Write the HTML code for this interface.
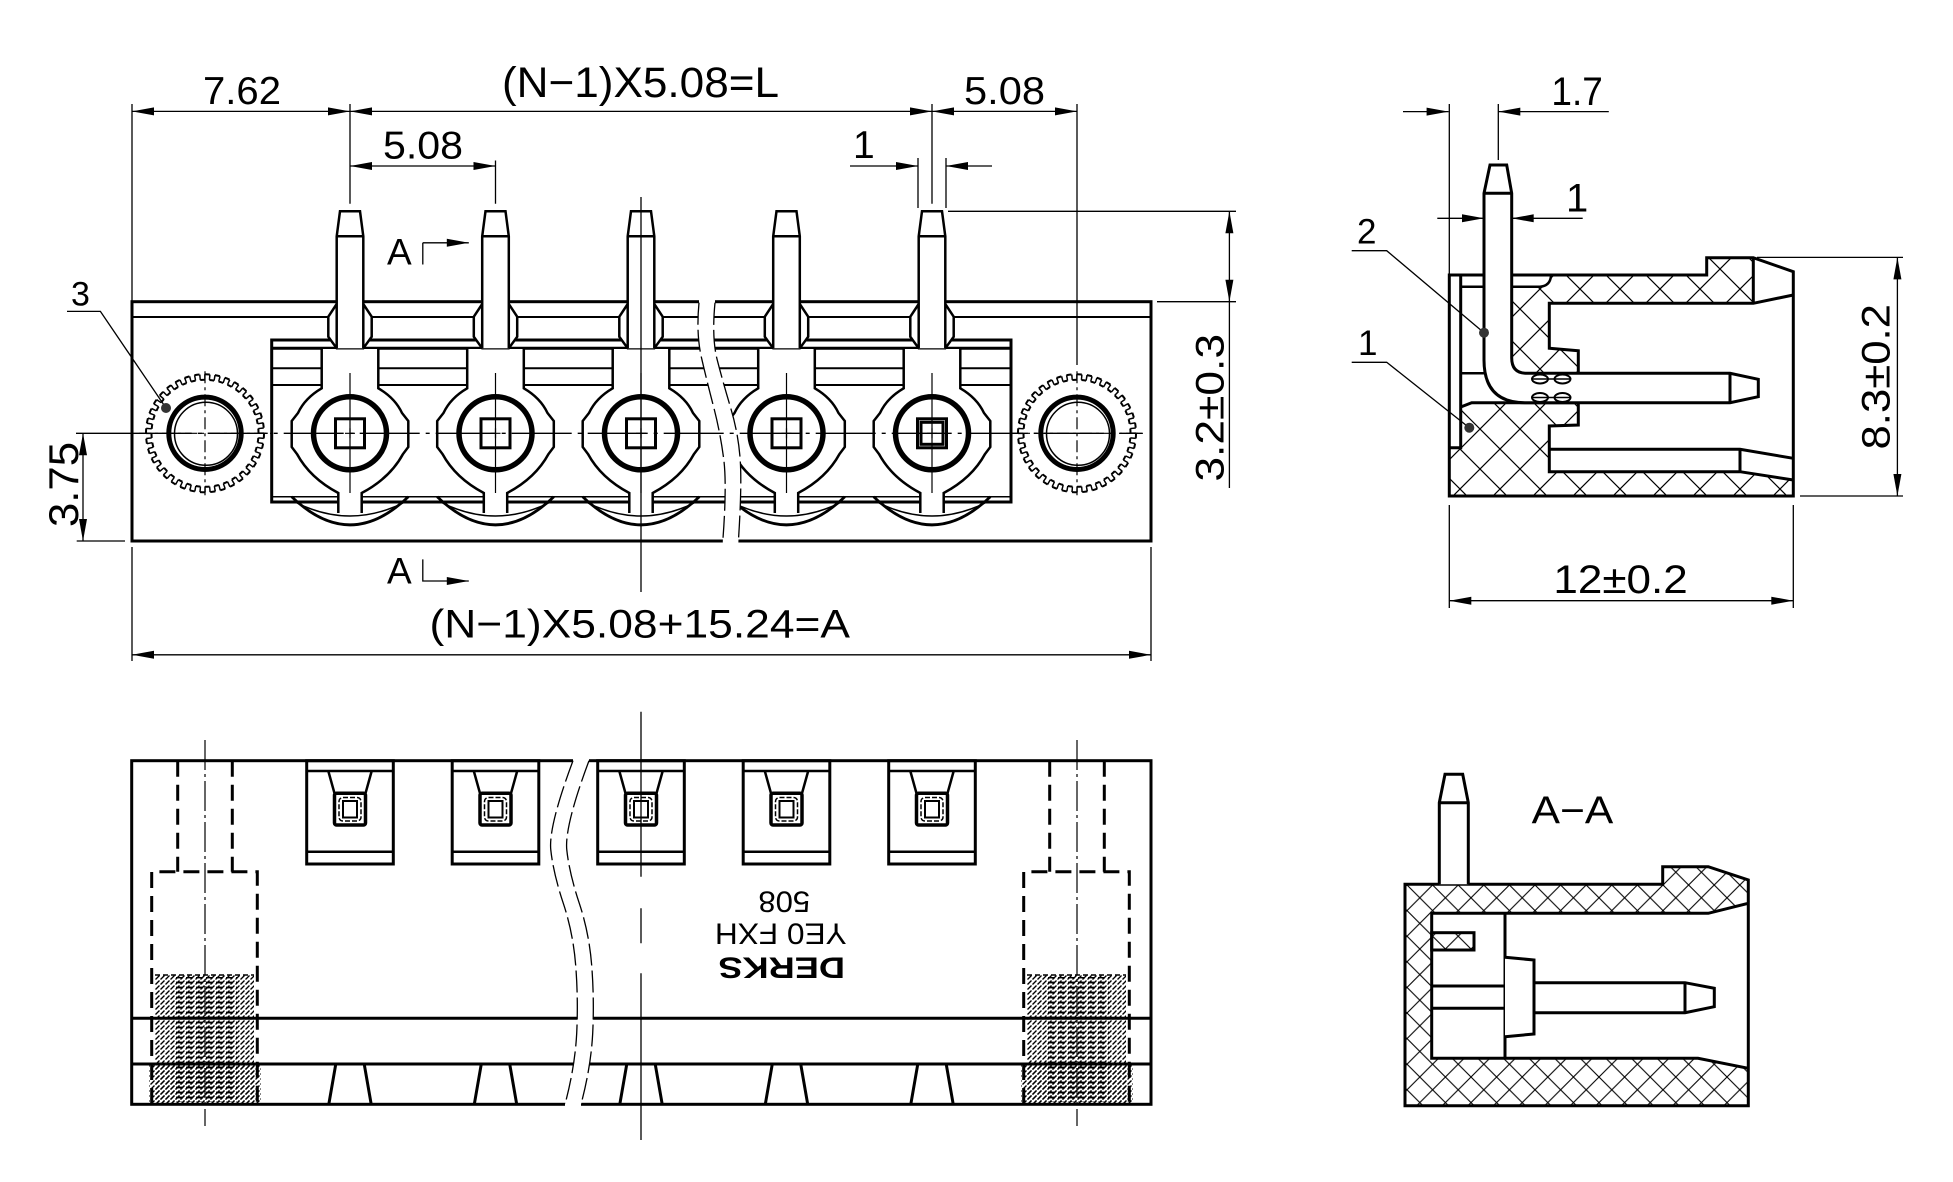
<!DOCTYPE html>
<html><head><meta charset="utf-8"><style>
html,body{margin:0;padding:0;background:#fff;}
svg{display:block;}
text{font-family:"Liberation Sans",sans-serif;fill:#000;}
</style></head><body>
<svg xmlns="http://www.w3.org/2000/svg" width="1953" height="1182" viewBox="0 0 1953 1182">
<defs>
<pattern id="xh1" patternUnits="userSpaceOnUse" x="0" y="29" width="40" height="40"><path d="M0,0L40,40M40,0L0,40" stroke="#000" stroke-width="1.2"/></pattern>
<pattern id="xh2" patternUnits="userSpaceOnUse" x="1407" y="885" width="25.6" height="25.6"><path d="M0,0L25.6,25.6M25.6,0L0,25.6" stroke="#000" stroke-width="1.1"/></pattern>
<pattern id="thr" patternUnits="userSpaceOnUse" width="5" height="5"><path d="M0.5,4.5L4.5,0.5" stroke="#000" stroke-width="1.3"/></pattern>
<pattern id="thr2" patternUnits="userSpaceOnUse" width="10" height="5"><path d="M1,2.5H8" stroke="#000" stroke-width="1.8"/></pattern>

<g id="term" stroke="#000" fill="none">
 <path d="M-28.3,349 V388.3 Q-45,398 -52,413 L-58.3,421 V447 L-53,454 Q-40,478 -11.7,493 V513 H11.7 V493 Q40,478 53,454 L58.3,447 V421 L52,413 Q45,398 28.3,388.3 V349 Z" fill="#fff" stroke="none"/>
 <path d="M-28.3,349 V388.3 Q-45,398 -52,413 L-58.3,421 V447 L-53,454 Q-40,478 -11.7,493 V513 M28.3,349 V388.3 Q45,398 52,413 L58.3,421 V447 L53,454 Q40,478 11.7,493 V513" stroke-width="2.5"/>
 <path d="M-58.3,496.7 Q0,553 58.3,496.7" stroke-width="2.8"/>
 <path d="M-55,502 Q0,530 55,502" stroke-width="1.5"/>
 <circle cx="0" cy="433.3" r="36.5" stroke-width="5.5"/>
 <rect x="-14.5" y="418.8" width="29" height="29" stroke-width="3"/>
 <path d="M-5,433.3H5M0,428.3V438.3" stroke-width="1.2"/>
 <path d="M0,373V493" stroke-width="1.2"/>
 <path d="M-13.3,304 L-21.7,316.7 V336.7 L-13.3,348.3 H13.3 L21.7,336.7 V316.7 L13.3,304 Z" fill="#fff" stroke-width="2.5"/>
 <path d="M-13.3,348.3 V236.3 L-10,211.2 H10 L13.3,236.3 V348.3" fill="#fff" stroke-width="2.5"/>
 <path d="M-13.3,236.3H13.3" stroke-width="2.5"/>
</g>

<g id="ring" fill="none" stroke="#000">
 <circle r="59" stroke-width="2" pathLength="72" stroke-dasharray="1 1"/>
 <circle r="53.5" stroke-width="2" pathLength="72" stroke-dasharray="1 1" stroke-dashoffset="1"/>
 <circle r="56.25" stroke-width="5.5" pathLength="72" stroke-dasharray="0.3 0.7" stroke-dashoffset="0.15"/>
 <circle r="36.2" stroke-width="5" fill="#fff"/>
 <circle cx="1" cy="0.5" r="31.5" stroke-width="1.5"/>
 <path d="M-66,0H66M0,-62V62" stroke-width="1.2" stroke-dasharray="12 4 3 4"/>
</g>

<g id="win" stroke="#000" fill="none">
 <rect x="-43.3" y="760.7" width="86.6" height="103.3" stroke-width="3"/>
 <path d="M-43.3,771H43.3M-43.3,851.7H43.3" stroke-width="2.5"/>
 <path d="M-21.7,771L-15.5,793.3M21.7,771L15.5,793.3" stroke-width="2.5"/>
 <rect x="-15.5" y="793.3" width="31" height="31.7" rx="2" stroke-width="3.5"/>
 <rect x="-11" y="797.5" width="22" height="23.5" rx="4" stroke-width="1.5" stroke-dasharray="5 2"/>
 <rect x="-7" y="801" width="14" height="16.5" stroke-width="2"/>
 <path d="M-14.2,1064L-21.2,1104.3M14.2,1064L21.2,1104.3" stroke-width="3"/>
</g>

<g id="hole" stroke="#000" fill="none">
 <rect x="-50" y="975" width="99" height="129.3" fill="url(#thr)" stroke="none"/>
 <rect x="-56" y="1064" width="112" height="40.3" fill="url(#thr)" stroke="none"/>
 <rect x="-32" y="977" width="64" height="125" fill="url(#thr2)" stroke="none"/>
 <path d="M-50,975H49" stroke-width="1.5" stroke-dasharray="5 3"/>
 <path d="M-27.3,760.7V871.7M27.3,760.7V871.7" stroke-width="3" stroke-dasharray="16 8"/>
 <path d="M-53.3,1104V871.7H52.3V1104" stroke-width="3" stroke-dasharray="16 8"/>
 <path d="M0,740V1126" stroke-width="1.2" stroke-dasharray="30 4 3 4"/>
</g>
</defs>

<!-- ================= TOP VIEW ================= -->
<g stroke="#000" fill="none">
 <rect x="132" y="301.7" width="1019" height="239.3" stroke-width="3"/>
 <path d="M132,317H1151" stroke-width="2"/>
 <rect x="271.7" y="340" width="739.3" height="162" stroke-width="3"/>
 <path d="M271.7,348.3H1011" stroke-width="3"/>
 <path d="M271.7,368.3H1011M271.7,385H1011" stroke-width="2"/>
 <path d="M271.7,496.7H1011" stroke-width="1.5"/>
</g>
<use href="#term" x="350" y="0"/>
<use href="#term" x="495.5" y="0"/>
<use href="#term" x="641" y="0"/>
<use href="#term" x="786.5" y="0"/>
<use href="#term" x="932" y="0"/>
<rect x="921" y="422.3" width="22" height="22" fill="none" stroke="#000" stroke-width="3"/>

<!-- top break -->
<path d="M699,298 L699,302.7 Q696,334 701.5,357.8 Q707,381.6 713.8,407.6 Q720.5,433.6 723.8,459.7 Q727,485.7 722.8,541 L722.8,545 L738.4,545 L738.4,541 Q742,485.7 740.2,459.7 Q738.4,433.6 730.6,407.6 Q722.8,381.6 717.2,359.8 Q711.6,338 715,302.7 L715,298 Z" fill="#fff" stroke="none"/>
<g stroke="#000" fill="none" stroke-width="1.3">
 <path d="M699,302.7 Q696,334 701.5,357.8 Q707,381.6 713.8,407.6 Q720.5,433.6 723.8,459.7 Q727,485.7 722.8,541" stroke-dasharray="22 5"/>
 <path d="M715,302.7 Q711.6,338 717.2,359.8 Q722.8,381.6 730.6,407.6 Q738.4,433.6 740.2,459.7 Q742,485.7 738.4,541" stroke-dasharray="22 5"/>
</g>

<use href="#ring" x="205" y="433.3"/>
<use href="#ring" x="1077" y="433.3"/>

<g stroke="#000" fill="none" stroke-width="1.3">
 <path d="M76,433.3H131.7"/>
 <path d="M131.7,433.3H1142" stroke-dasharray="60 6 4 6"/>
 <path d="M641,197V592"/>
 <path d="M132,104V301.7M132,547V661M1151,547V661"/>
 <path d="M350,104V203.8M932,104V203.8M495.5,160.5V203.8M1077,104V365"/>
 <path d="M132,111.4H1077"/>
 <path d="M350,166H495.5"/>
 <path d="M918,158V208M946,158V208M850,166H918M946,166H992"/>
 <path d="M948,211.3H1236M1157,301.7H1236M1229.4,211.3V488"/>
 <path d="M76.7,541H125M83,433.3V541"/>
 <path d="M132,654.8H1151"/>
 <path d="M422.8,242.8V264.5M422.8,242.8H468.8M422.8,559.4V581H468.8"/>
 <path d="M67,311.4H100.4L166,408"/>
</g>
<circle cx="166" cy="408" r="5" fill="#333"/>
<g fill="#000">
 <polygon points="132,111.4 154,107.4 154,115.4"/>
 <polygon points="350,111.4 328,107.4 328,115.4"/>
 <polygon points="350,111.4 372,107.4 372,115.4"/>
 <polygon points="932,111.4 910,107.4 910,115.4"/>
 <polygon points="932,111.4 954,107.4 954,115.4"/>
 <polygon points="1077,111.4 1055,107.4 1055,115.4"/>
 <polygon points="350,166 372,162 372,170"/>
 <polygon points="495.5,166 473.5,162 473.5,170"/>
 <polygon points="918,166 896,162 896,170"/>
 <polygon points="946,166 968,162 968,170"/>
 <polygon points="1229.4,211.3 1225.4,233.3 1233.4,233.3"/>
 <polygon points="1229.4,301.7 1225.4,279.7 1233.4,279.7"/>
 <polygon points="83,433.3 79,455.3 87,455.3"/>
 <polygon points="83,541 79,519 87,519"/>
 <polygon points="132,654.8 154,650.8 154,658.8"/>
 <polygon points="1151,654.8 1129,650.8 1129,658.8"/>
 <polygon points="468.8,242.8 446.8,238.8 446.8,246.8"/>
 <polygon points="468.8,581 446.8,577 446.8,585"/>
</g>
<text x="203" y="104" font-size="39" textLength="78" lengthAdjust="spacingAndGlyphs">7.62</text>
<text x="502" y="97" font-size="43" textLength="277" lengthAdjust="spacingAndGlyphs">(N−1)X5.08=L</text>
<text x="964" y="104" font-size="39" textLength="81" lengthAdjust="spacingAndGlyphs">5.08</text>
<text x="383" y="158.3" font-size="39" textLength="80" lengthAdjust="spacingAndGlyphs">5.08</text>
<text x="853" y="158" font-size="39">1</text>
<text x="387" y="264.5" font-size="37">A</text>
<text x="387" y="583.3" font-size="37">A</text>
<text x="429.5" y="637.5" font-size="40" textLength="420.5" lengthAdjust="spacingAndGlyphs">(N−1)X5.08+15.24=A</text>
<text x="71" y="305.7" font-size="34">3</text>
<text transform="translate(78,527) rotate(-90)" font-size="42" textLength="85" lengthAdjust="spacingAndGlyphs">3.75</text>
<text transform="translate(1223.6,481.6) rotate(-90)" font-size="40" textLength="147.6" lengthAdjust="spacingAndGlyphs">3.2±0.3</text>

<!-- ================= SIDE VIEW ================= -->
<path d="M1511.7,286.7 H1540 Q1550,286 1551,276 H1706.7 V257.7 H1753.3 V303.3 H1549.3 V348.3 L1578.3,350.7 V373.3 H1526.7 Q1511.7,373.3 1511.7,358 Z" fill="url(#xh1)"/>
<path d="M1449.3,447.7 H1460.7 V407 L1471.7,402.7 H1578.3 V425 L1549.3,426 V471.7 H1740 L1793.3,480 V496 H1449.3 Z" fill="url(#xh1)"/>
<g stroke="#000" fill="none" stroke-width="3">
 <path d="M1449.3,275 H1706.7 V257.7 H1753.3 L1793.3,271.7 V496 H1449.3 Z"/>
 <path d="M1460.7,275 V447.7 H1449.3"/>
 <path d="M1460.7,286.7 H1484" stroke-width="2.5"/>
 <path d="M1511.7,286.7 H1540 Q1550,286 1551,276" stroke-width="2.5"/>
 <path d="M1460.7,373.3 H1484" stroke-width="2.5"/>
 <path d="M1753.3,257.7 V303.3 M1793.3,295 L1753.3,303.3 H1549.3 V348.3 L1578.3,350.7 V373.3"/>
 <path d="M1460.7,407 L1471.7,402.7 H1578.3 V425 L1549.3,426 V471.7 H1740 L1793.3,480 M1549.3,449.3 H1740 L1793.3,458.3 M1740,449.3 V471.7"/>
 <path d="M1484,193.3 V360 Q1484,402.7 1525,402.7 H1730 L1758.3,396.7 V379.3 L1730,373.3 H1526.7 Q1511.7,373.3 1511.7,358 V193.3 L1506.7,165 H1490 Z" fill="#fff"/>
 <path d="M1484,193.3 H1511.7 M1730,373.3 V402.7"/>
</g>
<g stroke="#000" fill="#fff" stroke-width="2">
 <ellipse cx="1540" cy="379" rx="8" ry="4.5"/><ellipse cx="1562.5" cy="379" rx="8" ry="4.5"/>
 <ellipse cx="1540" cy="397.5" rx="8" ry="4.5"/><ellipse cx="1562.5" cy="397.5" rx="8" ry="4.5"/>
 <path d="M1532,379H1570.5M1532,397.5H1570.5" fill="none" stroke-width="1.5"/>
</g>
<g stroke="#000" fill="none" stroke-width="1.3">
 <path d="M1403,111.6 H1448.6 M1498.3,111.6 H1608.8"/>
 <path d="M1449.3,104 V275 M1498.3,104 V160"/>
 <path d="M1437.3,218.3 H1484 M1511.7,218.3 H1582.7"/>
 <path d="M1449.3,505 V608 M1793.3,505 V608 M1449.3,600.7 H1793.3"/>
 <path d="M1757,257.4 H1903 M1800,496 H1903 M1897.4,257.4 V496"/>
 <path d="M1351.7,250.7 H1386.7 L1484,332.7"/>
 <path d="M1351.7,362.3 H1386.7 L1469.3,427.7"/>
</g>
<circle cx="1484" cy="332.7" r="5" fill="#333"/>
<circle cx="1469.3" cy="427.7" r="5" fill="#333"/>
<g fill="#000">
 <polygon points="1448.6,111.6 1426.6,107.6 1426.6,115.6"/>
 <polygon points="1498.3,111.6 1520.3,107.6 1520.3,115.6"/>
 <polygon points="1484,218.3 1462,214.3 1462,222.3"/>
 <polygon points="1511.7,218.3 1533.7,214.3 1533.7,222.3"/>
 <polygon points="1449.3,600.7 1471.3,596.7 1471.3,604.7"/>
 <polygon points="1793.3,600.7 1771.3,596.7 1771.3,604.7"/>
 <polygon points="1897.4,257.4 1893.4,279.4 1901.4,279.4"/>
 <polygon points="1897.4,496 1893.4,474 1901.4,474"/>
</g>
<text x="1551.4" y="105" font-size="40" textLength="51.4" lengthAdjust="spacingAndGlyphs">1.7</text>
<text x="1566" y="211.7" font-size="40">1</text>
<text x="1357" y="243.3" font-size="35">2</text>
<text x="1358" y="355" font-size="35">1</text>
<text x="1553.4" y="593" font-size="40" textLength="134.4" lengthAdjust="spacingAndGlyphs">12±0.2</text>
<text transform="translate(1889.5,449.5) rotate(-90)" font-size="40" textLength="145.5" lengthAdjust="spacingAndGlyphs">8.3±0.2</text>

<!-- ================= BOTTOM VIEW ================= -->
<g stroke="#000" fill="none" stroke-width="3">
 <rect x="131.7" y="760.7" width="1019.3" height="343.6"/>
 <path d="M131.7,1018.3H1151M131.7,1064H1151"/>
</g>
<use href="#hole" x="205" y="0"/>
<use href="#hole" x="1077" y="0"/>
<use href="#win" x="350" y="0"/>
<use href="#win" x="495.5" y="0"/>
<use href="#win" x="641" y="0"/>
<use href="#win" x="786.5" y="0"/>
<use href="#win" x="932" y="0"/>
<path d="M573,757 L573,760.7 Q548.3,826.7 550.8,850 Q553.3,873.3 563.3,903.3 Q573.3,933.3 575.8,966.7 Q578.3,1000 576.7,1033.3 Q575,1066.7 565,1104.3 L565,1108 L581,1108 L581,1104.3 Q591,1066.7 592.7,1033.3 Q594.3,1000 591.8,966.7 Q589.3,933.3 579.3,903.3 Q569.3,873.3 566.8,850 Q564.3,826.7 589,760.7 L589,757 Z" fill="#fff" stroke="none"/>
<g stroke="#000" fill="none" stroke-width="1.3">
 <path d="M573,760.7 Q548.3,826.7 550.8,850 Q553.3,873.3 563.3,903.3 Q573.3,933.3 575.8,966.7 Q578.3,1000 576.7,1033.3 Q575,1066.7 565,1104.3" stroke-dasharray="22 5"/>
 <path d="M589,760.7 Q564.3,826.7 566.8,850 Q569.3,873.3 579.3,903.3 Q589.3,933.3 591.8,966.7 Q594.3,1000 592.7,1033.3 Q591,1066.7 581,1104.3" stroke-dasharray="22 5"/>
 <path d="M641,711.7V876.7M641,908.3V943.3M641,973.3V1140"/>
</g>
<text transform="translate(784.2,891.7) rotate(180)" text-anchor="middle" font-size="30" textLength="51.7" lengthAdjust="spacingAndGlyphs">508</text>
<text transform="translate(780.8,923.3) rotate(180)" text-anchor="middle" font-size="30" textLength="131.7" lengthAdjust="spacingAndGlyphs">YE0 FXH</text>
<text transform="translate(781.7,957.3) rotate(180)" text-anchor="middle" font-size="30" font-weight="bold" textLength="126.7" lengthAdjust="spacingAndGlyphs">DERKS</text>

<!-- ================= SECTION A-A ================= -->
<path d="M1405,884.3 H1662.7 V866.7 H1708.3 L1748.3,880 V1105.7 H1405 Z M1431.7,913.3 H1708.3 L1748.3,903.3 V1068.3 L1698,1058.3 H1431.7 Z" fill="url(#xh2)" fill-rule="evenodd" stroke="#000" stroke-width="3"/>
<rect x="1431.7" y="932.7" width="42.3" height="17.3" fill="url(#xh2)" stroke="#000" stroke-width="3"/>
<g stroke="#000" fill="none" stroke-width="3">
 <path d="M1505,913.3V1058.3M1431.7,986H1505M1431.7,1008.3H1505"/>
 <path d="M1505,957.3 L1534,960 V1034 L1505,1036.7" fill="#fff"/>
 <path d="M1534,982.7 H1685 L1714.3,988.3 V1006.7 L1685,1012.7 H1534 M1685,982.7 V1012.7"/>
 <path d="M1439.3,884.3 V802.7 L1445,774.3 H1462.7 L1468.3,802.7 V884.3 M1439.3,802.7 H1468.3" fill="#fff"/>
</g>
<text x="1531.7" y="823.3" font-size="39" textLength="81.6" lengthAdjust="spacingAndGlyphs">A−A</text>
</svg>
</body></html>
